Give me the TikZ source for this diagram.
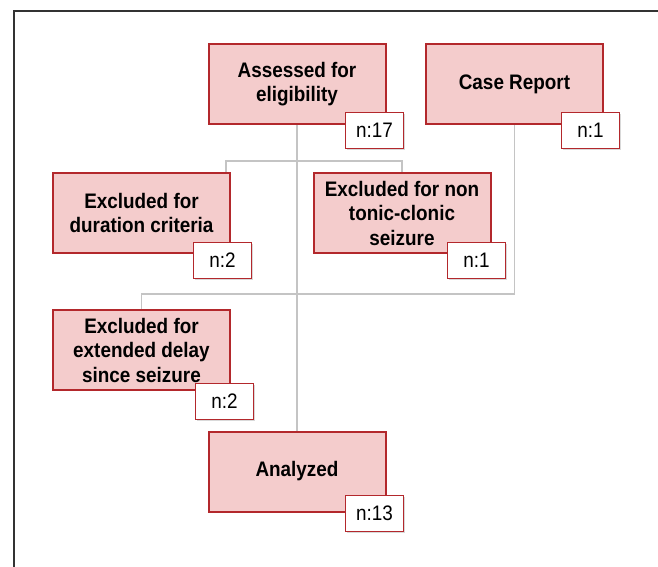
\documentclass[tikz,border=0pt]{standalone}
\usepackage{fontspec}
\setmainfont{Liberation Sans}
\newfontfamily\boxfont[FakeStretch=0.9]{Liberation Sans}
\usetikzlibrary{shadows,backgrounds}
\definecolor{boxfill}{HTML}{F4CCCC}
\definecolor{boxline}{HTML}{B3282C}
\definecolor{connc}{HTML}{C4C4C4}
\definecolor{framec}{HTML}{333333}
\begin{document}
\begin{tikzpicture}[x=1pt,y=-1pt,
  mainbox/.style={draw=boxline, line width=2pt, fill=boxfill, minimum width=177pt, minimum height=80pt, inner sep=0pt, align=center, font=\boxfont\fontsize{21}{24.5}\selectfont\bfseries},
  nbox/.style={draw=boxline, line width=1pt, fill=white, minimum width=58pt, minimum height=36pt, inner sep=0pt, font=\boxfont\fontsize{21}{23}\selectfont, drop shadow={opacity=0.3, shadow xshift=1pt, shadow yshift=-1.5pt}},
  conn/.style={draw=connc, line width=1.6pt},
  framel/.style={draw=framec, line width=1.4pt}]
\useasboundingbox (0,0) rectangle (658,567);
\draw[framel] (14,567) -- (14,11) -- (658,11);
% main boxes
\node[mainbox] (A) at (297,84) {Assessed for\\eligibility};
\node[mainbox] (CR) at (514.5,84) {Case Report};
\node[mainbox] (Dur) at (141.5,213) {Excluded for\\duration criteria};
\node[mainbox] (Non) at (402,213) {Excluded for non\\tonic-clonic\\seizure};
\node[mainbox] (Del) at (141.5,350) {Excluded for\\extended delay\\since seizure};
\node[mainbox] (An) at (297,471.5) {Analyzed};
% count boxes
\node[nbox] (nA) at (374.5,130.5) {n:17};
\node[nbox] (nCR) at (590.5,130.5) {n:1};
\node[nbox] (nDur) at (222.5,260) {n:2};
\node[nbox] (nNon) at (476.5,260) {n:1};
\node[nbox] (nDel) at (224.5,401.5) {n:2};
\node[nbox] (nAn) at (374.5,513) {n:13};
% connectors
\coordinate (j1) at (297,161);
\coordinate (j2) at (297,294);
\begin{scope}[on background layer]
\draw[conn] (A.south) -- (An.north);
\draw[conn] ([xshift=84.5pt]Dur.north) |- (j1) -| (Non.north);
\draw[conn] (Del.north) |- (j2) -| (CR.south);
\end{scope}
\end{tikzpicture}
\end{document}
